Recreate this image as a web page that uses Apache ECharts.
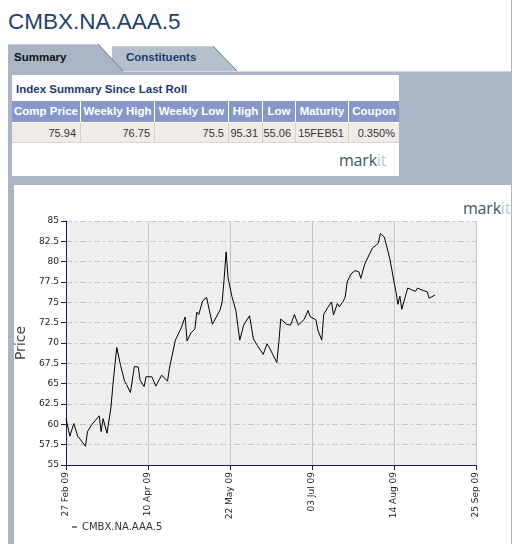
<!DOCTYPE html>
<html><head><meta charset="utf-8">
<script src="https://cdn.jsdelivr.net/npm/echarts@6/dist/echarts.min.js"></script>
<style>
html,body{margin:0;padding:0;background:#fff;}
body{width:518px;height:544px;position:relative;overflow:hidden;font-family:"Liberation Sans",Arial,sans-serif;}
.abs{position:absolute;}
#title{left:8px;top:11px;font-size:22.5px;line-height:22px;color:#1f3f6c;white-space:nowrap;}
#box{left:12px;top:75px;width:387px;height:101px;background:#fff;}
#heading{left:16px;top:82px;font-weight:bold;font-size:11.5px;line-height:14px;color:#1c3a6e;white-space:nowrap;}
.hcell{top:101px;height:21px;line-height:21px;background:#8797c8;color:#fff;font-weight:bold;font-size:11.5px;text-align:center;white-space:nowrap;box-sizing:border-box;border-right:1px solid #fff;}
.dcell{top:122px;height:21px;line-height:21px;background:#efece8;color:#333;font-size:11px;text-align:right;padding-right:4px;white-space:nowrap;box-sizing:border-box;border-right:1px solid #d6cfc6;border-top:1px solid #fff;border-bottom:1px solid #ddd6ce;}
.markit{font-family:"Open Sans",sans-serif;font-size:16px;line-height:16px;white-space:nowrap;letter-spacing:-0.2px;}
.markit .a{color:#3b5666;}
.markit .b{color:#a6d0e2;}
#strip{left:8px;top:185px;width:6px;height:359px;background:#a9b5c5;}
#rline{left:511px;top:0;width:1px;height:544px;background:#b4b4b4;}
#chart{left:0;top:0;width:518px;height:544px;z-index:2;}
</style></head>
<body>
<div id="title" class="abs">CMBX.NA.AAA.5</div>
<svg class="abs" style="left:0;top:0" width="518" height="190">
 <rect x="8" y="71" width="503" height="114" fill="#a9b5c5"/>
 <polygon points="112,46 213,46 237,71 112,71" fill="#b6c0cd"/>
 <line x1="213" y1="46" x2="237" y2="71" stroke="#6f7b8a" stroke-width="1"/>
 <line x1="112" y1="46.5" x2="213" y2="46.5" stroke="#c8d0da"/>
 <polygon points="8,44 98,44 123,71 8,71" fill="#a9b5c5"/>
 <line x1="8" y1="44.5" x2="98" y2="44.5" stroke="#c3ccd7"/>
 <line x1="98" y1="44" x2="123" y2="71" stroke="#6f7b8a" stroke-width="1"/>
 <line x1="123" y1="71.5" x2="511" y2="71.5" stroke="#d0d7e0"/>
 <text x="14" y="61" font-family="Liberation Sans, Arial" font-weight="bold" font-size="11.5" fill="#111">Summary</text>
 <text x="126" y="61" font-family="Liberation Sans, Arial" font-weight="bold" font-size="11.5" fill="#1c3a6e">Constituents</text>
</svg>
<div id="box" class="abs"></div>
<div id="heading" class="abs">Index Summary Since Last Roll</div>
<div id="table"></div>
<div class="abs markit" style="left:339px;top:152px;"><span class="a">mark</span><span class="b">it</span></div>
<div id="strip" class="abs"></div>
<div id="rline" class="abs"></div>
<div class="abs markit" style="left:463px;top:200px;"><span class="a">mark</span><span class="b">it</span></div>
<div id="chart" class="abs"></div>
<script>
// ---- summary table ----
const tableHeaders = ['Comp Price','Weekly High','Weekly Low','High','Low','Maturity','Coupon'];
const tableValues  = ['75.94','76.75','75.5','95.31','55.06','15FEB51','0.350%'];
const colEdges = [12,81,155,229,263,296,349,399];
const tbl = document.getElementById('table');
tableHeaders.forEach((h,i)=>{
  const w = colEdges[i+1]-colEdges[i];
  const hc = document.createElement('div');
  hc.className='abs hcell'; hc.style.left=colEdges[i]+'px'; hc.style.width=w+'px'; hc.textContent=h;
  if(i===tableHeaders.length-1) hc.style.borderRight='none';
  tbl.appendChild(hc);
  const dc = document.createElement('div');
  dc.className='abs dcell'; dc.style.left=colEdges[i]+'px'; dc.style.width=w+'px'; dc.textContent=tableValues[i];
  if(i===tableHeaders.length-1) dc.style.borderRight='none';
  tbl.appendChild(dc);
});

// ---- chart data ----
const seriesName = 'CMBX.NA.AAA.5';
const xTickLabels = ['27 Feb 09','10 Apr 09','22 May 09','03 Jul 09','14 Aug 09','25 Sep 09'];
const dates = [
'2009-02-27','2009-03-01','2009-03-03','2009-03-05','2009-03-09','2009-03-10','2009-03-11','2009-03-12','2009-03-13','2009-03-16',
'2009-03-17','2009-03-18','2009-03-20','2009-03-22','2009-03-23','2009-03-25','2009-03-27','2009-03-29','2009-03-30','2009-04-01',
'2009-04-03','2009-04-05','2009-04-06','2009-04-08','2009-04-09','2009-04-12','2009-04-14','2009-04-17','2009-04-20','2009-04-21',
'2009-04-24','2009-04-27','2009-04-29','2009-04-30','2009-05-02','2009-05-04','2009-05-05','2009-05-06','2009-05-08','2009-05-10',
'2009-05-13','2009-05-17','2009-05-18','2009-05-19','2009-05-20','2009-05-21','2009-05-23','2009-05-25','2009-05-27','2009-05-29',
'2009-06-01','2009-06-03','2009-06-05','2009-06-08','2009-06-10','2009-06-11','2009-06-15','2009-06-16','2009-06-17','2009-06-20',
'2009-06-22','2009-06-24','2009-06-26','2009-06-29','2009-07-01','2009-07-02','2009-07-05','2009-07-06','2009-07-08','2009-07-09',
'2009-07-11','2009-07-13','2009-07-14','2009-07-16','2009-07-17','2009-07-19','2009-07-20','2009-07-21','2009-07-23','2009-07-25',
'2009-07-27','2009-07-28','2009-07-30','2009-08-03','2009-08-05','2009-08-06','2009-08-07','2009-08-09','2009-08-11','2009-08-12',
'2009-08-14','2009-08-15','2009-08-16','2009-08-17','2009-08-18','2009-08-21','2009-08-23','2009-08-25','2009-08-26','2009-08-29',
'2009-08-31','2009-09-01','2009-09-02','2009-09-04'
];
const prices = [
60.7,58.55,60.1,58.55,57.3,59.1,59.2,59.9,60.1,61.05,
59.1,60.7,58.9,62.0,64.8,69.45,67.2,65.3,64.9,63.9,
67.1,67.05,65.4,64.65,65.85,65.85,64.7,66.05,65.3,66.9,
70.35,71.85,73.2,70.25,71.25,71.7,73.8,73.5,75.2,75.6,
72.3,74.1,75.1,77.9,81.2,78.0,75.7,74.0,70.35,72.2,
73.35,70.5,69.7,68.6,69.9,69.5,67.6,70.05,72.95,72.3,
72.2,73.5,72.2,72.9,74.0,73.25,72.85,71.6,70.35,73.5,
74.35,75.05,73.45,74.85,74.45,75.15,75.65,77.5,78.5,78.9,
78.75,77.95,79.7,81.7,82.05,82.3,83.45,83.05,81.2,80.2,
77.5,76.3,74.75,75.75,74.15,76.75,76.55,76.35,76.75,76.45,
76.3,75.5,75.55,75.9
];

const baseUTC = Date.UTC(2009,1,27);
const stepDays = 42;
function dayOffset(s){const p=s.split('-').map(Number);return (Date.UTC(p[0],p[1]-1,p[2])-baseUTC)/86400000;}
const seriesData = dates.map((d,i)=>[dayOffset(d), prices[i]]);

const axisColor = '#1a1a5e';
const chart = echarts.init(document.getElementById('chart'), null, {renderer:'canvas'});
chart.setOption({
  animation:false,
  backgroundColor:'transparent',
  grid:{left:66, top:221, width:410, height:244, show:true, backgroundColor:'#eeeeee', borderWidth:0},
  xAxis:{
    type:'value', min:0, max:stepDays*(xTickLabels.length-1), interval:stepDays,
    axisLine:{show:true, onZero:false, lineStyle:{color:axisColor, width:1}},
    axisTick:{show:true, length:5, lineStyle:{color:axisColor}},
    axisLabel:{rotate:90, margin:7, fontFamily:'DejaVu Sans', fontSize:9, color:'#222',
      formatter:v=>xTickLabels[Math.round(v/stepDays)]},
    splitLine:{show:true, lineStyle:{color:'#c4c4c4', width:1}}
  },
  yAxis:{
    type:'value', min:55, max:85, interval:2.5,
    name:'Price', nameLocation:'middle', nameGap:37, nameRotate:90,
    nameTextStyle:{fontFamily:'DejaVu Sans', fontSize:14, color:'#444'},
    axisLine:{show:true, lineStyle:{color:axisColor, width:1}},
    axisTick:{show:true, length:5, lineStyle:{color:axisColor}},
    axisLabel:{margin:7, fontFamily:'DejaVu Sans', fontSize:9, color:'#222'},
    splitLine:{show:true, lineStyle:{color:'#c6c6c6', width:1, type:[6,3,2,3]}}
  },
  legend:{left:72, top:522, padding:0, icon:'rect', itemWidth:5, itemHeight:1, itemGap:10,
    textStyle:{fontFamily:'DejaVu Sans', fontSize:10, color:'#333', padding:[0,0,0,0]}, data:[seriesName]},
  series:[{type:'line', name:seriesName, data:seriesData, showSymbol:false, symbol:'none',
    lineStyle:{color:'#000', width:1}, itemStyle:{color:'#000'}, emphasis:{disabled:true}}]
});
</script>
</body></html>
